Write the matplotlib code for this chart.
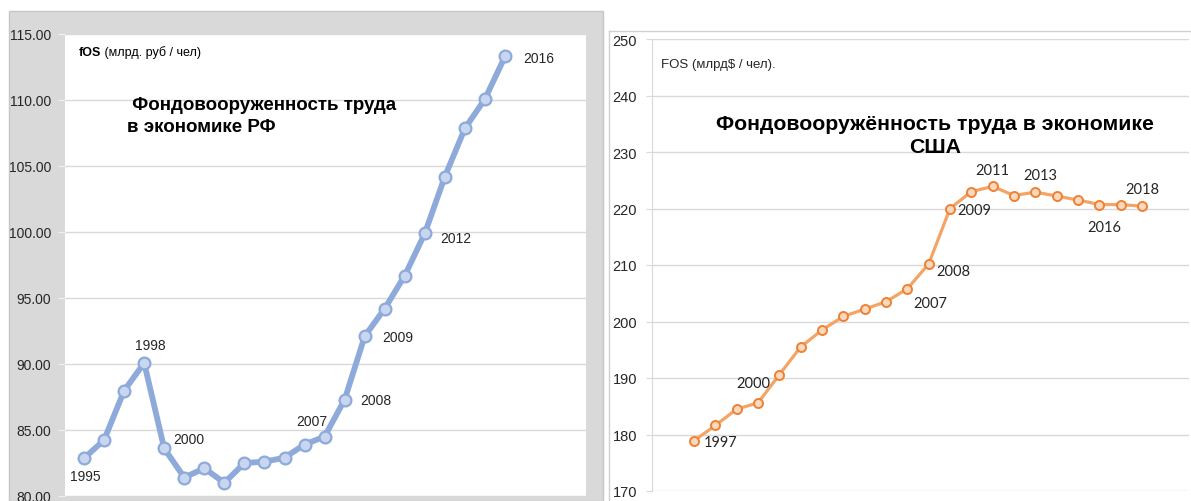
import matplotlib.pyplot as plt
from matplotlib.patches import Rectangle
from matplotlib.lines import Line2D

plt.rcParams['font.family'] = ['Liberation Sans', 'DejaVu Sans']

# Russia, fOS (bn rub per worker)
ru_years = list(range(1995, 2017))
ru_fos = [82.86, 84.24, 87.98, 90.08, 83.6, 81.4, 82.1, 81.0, 82.5, 82.6, 82.9,
          83.9, 84.5, 87.3, 92.1, 94.2, 96.7, 99.9, 104.2, 107.85, 110.08, 113.3]
ru_ticks = [80, 85, 90, 95, 100, 105, 110, 115]

# USA, FOS (bn $ per worker)
us_years = list(range(1997, 2019))
us_fos = [178.9, 181.6, 184.5, 185.6, 190.6, 195.5, 198.5, 200.9, 202.2, 203.5, 205.8,
          210.2, 220.0, 223.0, 223.9, 222.3, 222.9, 222.2, 221.5, 220.7, 220.7, 220.4]
us_ticks = [170, 180, 190, 200, 210, 220, 230, 240, 250]

# year labels: offset of label from its point in pixels (right, down)
ru_lab = {1995: (1, 18), 1998: (6, -18), 2000: (5, -39), 2007: (-13, -16),
          2008: (31, 0), 2009: (33, 1), 2012: (31, 5), 2016: (34, 2)}
us_lab = {1997: (27, 1), 2000: (-5, -20), 2007: (23, 14), 2008: (25, 7),
          2009: (24, 1), 2011: (0, -16), 2013: (5, -17), 2016: (5, 22), 2018: (0, -17)}

W, H = 1191, 502
fig = plt.figure(figsize=(W / 100, H / 100), dpi=100)


def box(x0, y0, x1, y1):
    return [x0 / W, 1 - y1 / H, (x1 - x0) / W, (y1 - y0) / H]


# gray frame of the left chart
fig.patches.append(Rectangle((9 / W, 0), (603 - 9) / W, (H - 12) / H, transform=fig.transFigure,
                             facecolor='#d9d9d9', edgecolor='#c6c6c6', lw=1, zorder=-5))
# thin frame of the right chart
fig.add_artist(Line2D([609 / W, 609 / W], [0, 1 - 32 / H], color='#d0d0d0', lw=1, zorder=-5))
fig.add_artist(Line2D([609 / W, 1], [1 - 32 / H, 1 - 32 / H], color='#d0d0d0', lw=1, zorder=-5))

# ---- left: Russia
ax1 = fig.add_axes(box(65, 35, 586, 497))
ax1.set_facecolor('white')
ax1.set_xlim(1994.05, 2020.04)
ax1.set_ylim(80, 115)
ax1.set_yticks(ru_ticks)
ax1.set_yticklabels(['%.2f' % t for t in ru_ticks])
ax1.set_xticks([])
ax1.grid(axis='y', color='#d9d9d9', lw=1)
ax1.set_axisbelow(True)
for s in ax1.spines.values():
    s.set_visible(False)
ax1.tick_params(axis='y', length=5, color='#f0f0f0', pad=5, labelsize=10, labelcolor='#262626')
ax1.plot(ru_years, ru_fos, color='#8eaadb', lw=4.2, marker='o', ms=8.5,
         mfc='#c8d6ef', mec='#8eaadb', mew=1.6, solid_joinstyle='round', clip_on=False)
for yr, (dx, dy) in ru_lab.items():
    v = ru_fos[ru_years.index(yr)]
    ax1.annotate(str(yr), (yr, v), xytext=(dx, -dy), textcoords='offset pixels',
                 ha='center', va='center', fontsize=10, color='#262626')

ax1.text(127 / W, 1 - 106 / H, ' Фондовооруженность труда', fontsize=13.5, fontweight='bold',
         va='center', ha='left', transform=fig.transFigure)
ax1.text(127 / W, 1 - 127 / H, 'в экономике РФ', fontsize=13.5, fontweight='bold',
         va='center', ha='left', transform=fig.transFigure)
t1 = ax1.text(79 / W, 1 - 53 / H, 'fOS', fontsize=9, fontweight='bold', va='center', ha='left',
              transform=fig.transFigure)
ax1.annotate(' (млрд. руб / чел)', xy=(1, 0.5), xycoords=t1, va='center', ha='left', fontsize=9)

# ---- right: USA
ax2 = fig.add_axes(box(652, 40, 1189, 492))
ax2.set_xlim(1995.03, 2020.2)
ax2.set_ylim(170, 250)
ax2.set_yticks(us_ticks)
ax2.set_xticks([])
ax2.grid(axis='y', color='#d9d9d9', lw=1)
ax2.set_axisbelow(True)
for k, s in ax2.spines.items():
    s.set_visible(k == 'left')
ax2.spines['left'].set_color('#d9d9d9')
ax2.tick_params(axis='y', length=4.3, color='#d9d9d9', pad=6.5, labelsize=10.5, labelcolor='#262626')
ax2.plot(us_years, us_fos, color='#f4a464', lw=2.3, marker='o', ms=6.5,
         mfc='#fcd9bd', mec='#ee8135', mew=1.4, solid_joinstyle='round', clip_on=False)
for yr, (dx, dy) in us_lab.items():
    v = us_fos[us_years.index(yr)]
    ax2.annotate(str(yr), (yr, v), xytext=(dx, -dy), textcoords='offset pixels',
                 ha='center', va='center', fontsize=10.5, color='#262626',
                 family=['Lato', 'DejaVu Sans'])

fig.text(935 / W, 1 - 124 / H, 'Фондовооружённость труда в экономике', fontsize=15.3,
         fontweight='bold', va='center', ha='center')
fig.text(935 / W, 1 - 148 / H, 'США', fontsize=15.3, fontweight='bold', va='center', ha='center')
fig.text(661 / W, 1 - 65 / H, 'FOS (млрд$ / чел).', fontsize=9.5, va='center', ha='left',
         color='#262626')

fig.savefig('out.png', dpi=100)
